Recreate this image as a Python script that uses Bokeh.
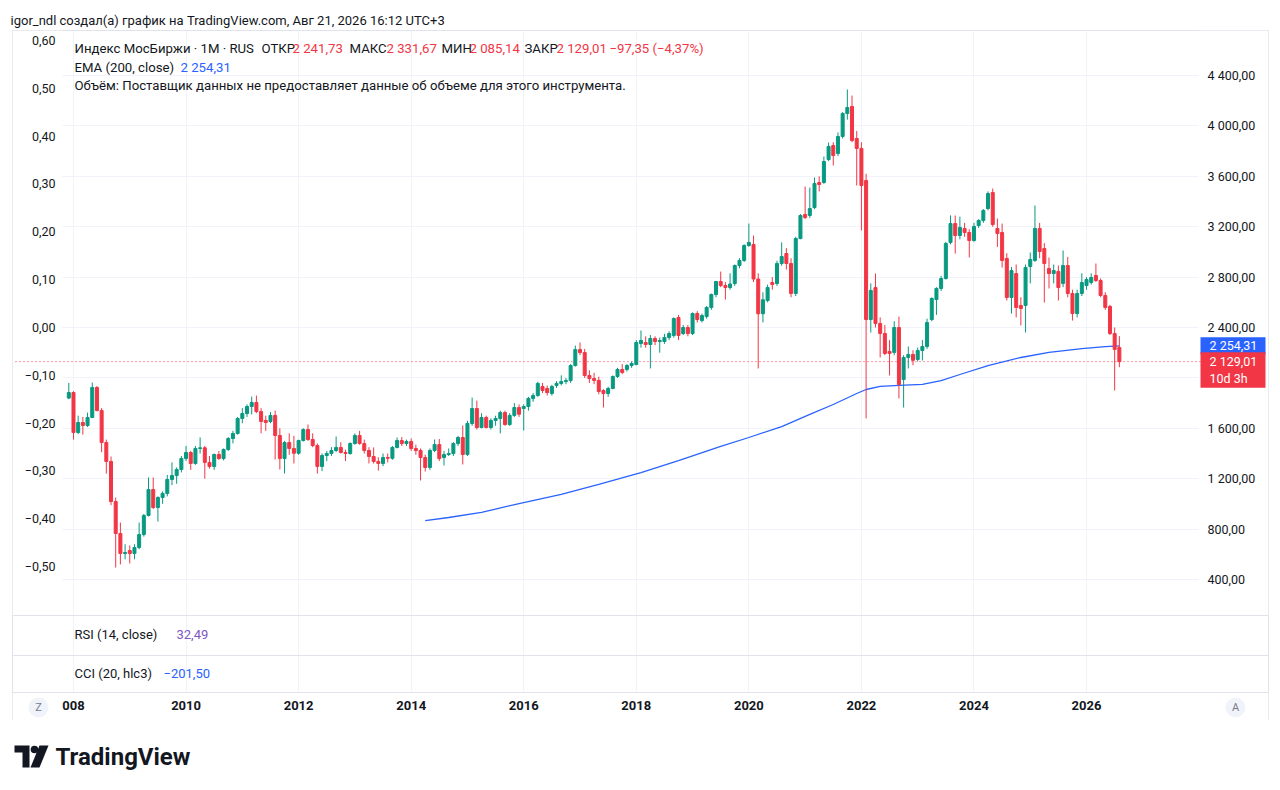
import pandas as pd
from bokeh.plotting import figure
from bokeh.models import (ColumnDataSource, LinearAxis, Range1d, FixedTicker, Label,
                          Span, Grid)
from bokeh.layouts import column
from bokeh.embed import file_html
from bokeh.resources import INLINE

# ---------------- data (monthly candles, Dec 2007 .. Aug 2026) ----------------
months = pd.date_range("2007-12-01", periods=225, freq="MS").strftime("%Y-%m").tolist()

open_ = [
    1840,
    1884, 1567, 1646, 1622, 1686, 1924, 1741, 1487, 1337, 1019, 765, 606,      # 2008
    630, 606, 654, 757, 908, 1114, 971, 1051, 1083, 1194, 1225, 1273,          # 2009
    1360, 1408, 1321, 1440, 1445, 1329, 1297, 1392, 1360, 1432, 1519, 1559,    # 2010
    1678, 1717, 1773, 1805, 1733, 1662, 1654, 1702, 1543, 1360, 1487, 1440,    # 2011
    1402, 1503, 1590, 1511, 1463, 1297, 1384, 1400, 1424, 1448, 1408, 1400,    # 2012
    1479, 1543, 1479, 1424, 1376, 1337, 1321, 1368, 1362, 1448, 1503, 1479,    # 2013
    1495, 1440, 1424, 1368, 1289, 1424, 1471, 1368, 1392, 1400, 1479, 1527,    # 2014
    1392, 1638, 1757, 1606, 1686, 1606, 1662, 1678, 1725, 1630, 1702, 1765,    # 2015
    1757, 1773, 1837, 1860, 1932, 1916, 1876, 1940, 1956, 1971, 1979, 2098,    # 2016
    2225, 2201, 2019, 1995, 1980, 1900, 1876, 1916, 2011, 2067, 2067, 2098,    # 2017
    2106, 2273, 2281, 2265, 2313, 2289, 2289, 2321, 2337, 2479, 2352, 2400,    # 2018
    2352, 2511, 2455, 2487, 2559, 2662, 2765, 2733, 2717, 2749, 2892, 2932,    # 2019
    3051, 3059, 2785, 2509, 2614, 2757, 2749, 2908, 2987, 2908, 2670, 3106,    # 2020
    3297, 3289, 3352, 3551, 3551, 3733, 3844, 3781, 3916, 4098, 4154, 3900,    # 2021
    3821, 3567, 2463, 2717, 2432, 2352, 2210, 2202, 2400, 1987, 2162, 2186,    # 2022
    2146, 2217, 2249, 2463, 2622, 2710, 2789, 3075, 3225, 3130, 3186, 3154,    # 2023
    3090, 3209, 3249, 3344, 3471, 3186, 3154, 2948, 2638, 2828, 2575, 2575,    # 2024
    2884, 2932, 3186, 3027, 2868, 2828, 2845, 2750, 2892, 2670, 2511, 2670,    # 2025
    2733, 2757, 2813, 2773, 2654, 2567, 2352, 2241.73,                         # 2026
]
high = [
    1960,
    1895, 1700, 1690, 1725, 1963, 1935, 1760, 1510, 1376, 1050, 852, 680,
    670, 680, 852, 920, 1210, 1210, 1060, 1100, 1230, 1330, 1290, 1380,
    1460, 1420, 1460, 1527, 1460, 1380, 1400, 1420, 1440, 1530, 1580, 1690,
    1760, 1790, 1852, 1860, 1760, 1700, 1730, 1741, 1600, 1500, 1560, 1540,
    1510, 1600, 1630, 1560, 1480, 1400, 1420, 1450, 1535, 1490, 1430, 1490,
    1560, 1580, 1510, 1450, 1448, 1370, 1400, 1400, 1460, 1527, 1530, 1510,
    1520, 1470, 1440, 1390, 1440, 1511, 1515, 1420, 1440, 1490, 1540, 1622,
    1660, 1844, 1820, 1720, 1700, 1680, 1700, 1740, 1740, 1720, 1800, 1790,
    1790, 1850, 1880, 1970, 1960, 1940, 1945, 1975, 2020, 2000, 2110, 2257,
    2281, 2230, 2060, 2040, 2010, 1910, 1930, 2020, 2080, 2110, 2110, 2130,
    2300, 2376, 2330, 2340, 2330, 2320, 2350, 2370, 2480, 2500, 2420, 2420,
    2520, 2530, 2510, 2570, 2670, 2770, 2844, 2760, 2830, 2900, 2950, 3060,
    3225, 3130, 2830, 2680, 2740, 2800, 2930, 3075, 3030, 2950, 3120, 3300,
    3519, 3511, 3590, 3600, 3757, 3868, 3870, 3948, 4110, 4289, 4241, 3960,
    3870, 3620, 2750, 2829, 2480, 2420, 2300, 2450, 2487, 2180, 2249, 2220,
    2240, 2300, 2470, 2640, 2720, 2810, 3080, 3290, 3289, 3280, 3230, 3180,
    3230, 3260, 3340, 3480, 3503, 3265, 3225, 2990, 2880, 2900, 2640, 2900,
    2995, 3368, 3230, 3070, 2955, 2900, 2892, 3011, 2960, 2700, 2700, 2830,
    2800, 2830, 2908, 2790, 2680, 2580, 2400, 2331.67,
]
low = [
    1830,
    1510, 1555, 1550, 1610, 1680, 1735, 1410, 1240, 990, 495, 520, 560,
    527, 560, 640, 740, 900, 960, 860, 1000, 1060, 1150, 1160, 1250,
    1340, 1270, 1310, 1400, 1200, 1280, 1270, 1350, 1345, 1420, 1480, 1550,
    1640, 1690, 1710, 1720, 1560, 1580, 1640, 1352, 1273, 1241, 1390, 1321,
    1390, 1495, 1500, 1450, 1241, 1260, 1340, 1380, 1410, 1400, 1340, 1390,
    1470, 1470, 1400, 1321, 1320, 1265, 1300, 1330, 1350, 1440, 1460, 1460,
    1420, 1390, 1186, 1257, 1270, 1410, 1340, 1305, 1380, 1380, 1460, 1313,
    1380, 1620, 1590, 1600, 1600, 1590, 1620, 1560, 1620, 1620, 1690, 1690,
    1582, 1740, 1810, 1850, 1880, 1860, 1860, 1920, 1940, 1950, 1960, 2090,
    2180, 2000, 1960, 1950, 1870, 1765, 1850, 1910, 2000, 2030, 2050, 2080,
    2100, 2240, 2240, 2075, 2260, 2200, 2270, 2300, 2320, 2300, 2340, 2330,
    2340, 2440, 2440, 2470, 2540, 2640, 2720, 2622, 2700, 2730, 2870, 2920,
    3040, 2760, 2075, 2440, 2600, 2700, 2730, 2890, 2860, 2640, 2650, 3100,
    3260, 3270, 3340, 3480, 3540, 3720, 3686, 3760, 3900, 4050, 3870, 3527,
    3170, 1678, 2360, 2400, 2162, 2180, 2019, 2180, 1837, 1765, 2075, 2100,
    2130, 2138, 2230, 2450, 2500, 2690, 2780, 3060, 2987, 3100, 3120, 2955,
    3080, 3190, 3230, 3330, 3200, 3040, 2876, 2614, 2511, 2480, 2416, 2360,
    2750, 2920, 2950, 2598, 2710, 2750, 2614, 2720, 2640, 2455, 2480, 2650,
    2700, 2740, 2760, 2640, 2540, 2340, 1900, 2085.14,
]
close = [
    1884,
    1567, 1646, 1622, 1686, 1924, 1741, 1487, 1337, 1019, 765, 606, 614,
    606, 654, 757, 908, 1114, 971, 1051, 1083, 1194, 1225, 1273, 1360,
    1408, 1321, 1440, 1445, 1329, 1297, 1392, 1360, 1432, 1519, 1559, 1678,
    1717, 1773, 1805, 1733, 1654, 1646, 1702, 1543, 1360, 1487, 1440, 1402,
    1503, 1590, 1511, 1463, 1297, 1384, 1400, 1424, 1448, 1408, 1400, 1479,
    1543, 1479, 1424, 1376, 1337, 1321, 1368, 1362, 1448, 1503, 1479, 1495,
    1440, 1424, 1368, 1289, 1424, 1471, 1360, 1392, 1400, 1479, 1527, 1392,
    1638, 1757, 1606, 1686, 1606, 1662, 1678, 1725, 1630, 1702, 1765, 1712,
    1773, 1837, 1860, 1956, 1900, 1884, 1932, 1956, 1971, 1979, 2098, 2225,
    2201, 2019, 1995, 1980, 1892, 1876, 1916, 2011, 2067, 2043, 2098, 2114,
    2281, 2297, 2265, 2313, 2289, 2297, 2321, 2352, 2471, 2337, 2400, 2352,
    2511, 2463, 2495, 2559, 2662, 2765, 2733, 2717, 2745, 2892, 2932, 3051,
    3075, 2785, 2509, 2620, 2717, 2741, 2908, 2963, 2908, 2670, 3106, 3289,
    3273, 3344, 3543, 3535, 3717, 3837, 3765, 3916, 4098, 4146, 3884, 3821,
    3527, 2463, 2694, 2432, 2352, 2194, 2194, 2400, 1948, 2162, 2186, 2140,
    2217, 2249, 2440, 2630, 2710, 2789, 3067, 3225, 3130, 3194, 3154, 3090,
    3202, 3249, 3329, 3463, 3217, 3146, 2932, 2638, 2852, 2559, 2551, 2876,
    2940, 3186, 3003, 2908, 2828, 2852, 2717, 2892, 2670, 2511, 2670, 2757,
    2781, 2797, 2773, 2654, 2559, 2352, 2226.36, 2129.01,
]

# EMA(200, close)
ema_dates = ["2014-04", "2014-09", "2015-04", "2015-12", "2016-09", "2017-05", "2018-02",
             "2018-10", "2019-07", "2020-01", "2020-08", "2021-02", "2021-07", "2021-12",
             "2022-02", "2022-05", "2022-09", "2023-02", "2023-06", "2023-10", "2024-04",
             "2024-11", "2025-05", "2025-12", "2026-05", "2026-08"]
ema_vals = [868, 892, 932, 1003, 1075, 1154, 1249, 1344, 1456, 1527, 1614, 1710, 1789, 1876,
            1908, 1932, 1940, 1948, 1979, 2027, 2098, 2162, 2202, 2233, 2249, 2254.31]

price_ticks = [400, 800, 1200, 1600, 2000, 2400, 2800, 3200, 3600, 4000, 4400]
pct_ticks = [60, 50, 40, 30, 20, 10, 0, -10, -20, -30, -40, -50]   # hundredths
year_ticks = list(range(2008, 2027, 2))
rsi_value = 32.49
cci_value = -201.50

assert all(len(a) == len(months) for a in (open_, high, low, close))

# ---------------- style / geometry ----------------
FONT = "Roboto"
DARK = "#131722"
UP = "#089981"
DOWN = "#f23645"
BLUE = "#2962ff"
PURPLE = "#7e57c2"
GRID = "#f0f3fa"
SEP = "#e0e3eb"


def fmt(v):
    s = f"{abs(v):,.2f}".replace(",", " ").replace(".", ",")
    return ("−" + s) if v < 0 else s


W = 1280
FL, FR = 12, 1268          # frame edges (x)
FT, FB = 30, 720           # frame edges (y)
PANE_L, PANE_R, PANE_B = 62, 1198, 615
PPX = 4.69                 # px per month
X0 = 68.3                  # x of first candle
x_lo, x_hi = (FL - X0) / PPX, (FR - X0) / PPX
y_lo = 400 + (579 - FB) / 0.126
y_hi = 400 + (579 - FT) / 0.126
PPY = (FB - FT) / (y_hi - y_lo)


def mx(px):
    return x_lo + (px - FL) / PPX


def my(py):
    return y_lo + (FB - py) / PPY


def pyv(v):
    return FB - (v - y_lo) * PPY


idx = list(range(len(months)))
year_idx = [months.index(f"{y}-01") for y in year_ticks]
year_labels = {i: (str(y) if y != 2008 else "008") for i, y in zip(year_idx, year_ticks)}

src = ColumnDataSource(dict(
    x=idx, o=open_, h=high, l=low, c=close,
    top=[max(a, b) for a, b in zip(open_, close)],
    bot=[min(a, b) for a, b in zip(open_, close)],
    col=[UP if c >= o else DOWN for o, c in zip(open_, close)],
))

# ---------------- main chart (all panes in one frame) ----------------
p = figure(width=W, height=FB, x_range=Range1d(x_lo, x_hi), y_range=Range1d(y_lo, y_hi),
           x_axis_location=None, y_axis_location=None, toolbar_location=None,
           output_backend="svg", min_border_left=FL, min_border_right=W - FR,
           min_border_top=FT, min_border_bottom=0)
p.outline_line_color = SEP
p.grid.visible = False
p.background_fill_color = "white"

p.title.text = "igor_ndl создал(а) график на TradingView.com, Авг 21, 2026 16:12 UTC+3"
p.title.text_font = FONT
p.title.text_font_size = "13px"
p.title.text_font_style = "normal"
p.title.text_color = DARK
p.title.align = "left"
p.title.offset = -2
p.title.standoff = 5

p.add_layout(Grid(dimension=0, ticker=FixedTicker(ticks=year_idx), grid_line_color=GRID))
p.add_layout(Grid(dimension=1, ticker=FixedTicker(ticks=price_ticks), grid_line_color=GRID))

# blank side strips and time row (no grid there)
p.quad(left=[mx(FL), mx(PANE_R), mx(FL)], right=[mx(PANE_L), mx(FR), mx(FR)],
       bottom=[my(PANE_B), my(PANE_B), my(FB)], top=[my(FT), my(FT), my(692)],
       fill_color="white", line_color=None)

# right price scale
cv = pyv(close[-1])
ra = LinearAxis(ticker=FixedTicker(ticks=[t for t in price_ticks if abs(pyv(t) - cv - 8) > 22]),
                major_label_overrides={t: fmt(t) for t in price_ticks})
p.add_layout(ra, "right")
# left scale
p.extra_y_ranges = {"pct": Range1d((0.60 - (FB - 40) * 1.1 / 526) * 100, (0.60 + (40 - FT) * 1.1 / 526) * 100)}
la = LinearAxis(y_range_name="pct", ticker=FixedTicker(ticks=pct_ticks),
                major_label_overrides={t: f"{t / 100:.2f}".replace(".", ",").replace("-", "−") for t in pct_ticks})
p.add_layout(la, "left")
# time scale
xa = LinearAxis(ticker=FixedTicker(ticks=year_idx), major_label_overrides=year_labels)
p.add_layout(xa, "below")

for ax, so in ((ra, -61), (la, -43), (xa, -20)):
    ax.axis_line_color = None
    ax.major_tick_line_color = None
    ax.minor_tick_line_color = None
    ax.major_tick_out = 0
    ax.major_tick_in = 0
    ax.major_label_standoff = so
    ax.major_label_text_font = FONT
    ax.major_label_text_font_size = "12.5px"
    ax.major_label_text_color = DARK
xa.major_label_text_font_style = "bold"
xa.major_label_text_font_size = "13px"

# last-price dotted line
p.segment(x0=[mx(15)], y0=[close[-1]], x1=[mx(1200)], y1=[close[-1]],
          line_color=DOWN, line_dash="1 3", line_width=1)

p.line([months.index(d) for d in ema_dates], ema_vals, line_color=BLUE, line_width=1.3)
p.segment("x", "l", "x", "h", source=src, line_color="col", line_width=1)
p.vbar(x="x", width=0.64, top="top", bottom="bot", source=src, fill_color="col", line_color="col",
       line_width=1)

# price boxes on the right scale
ev = pyv(ema_vals[-1])
p.quad(left=[mx(1200), mx(1200)], right=[mx(1265), mx(1265)],
       top=[my(ev - 8.5), my(cv - 9.5)], bottom=[my(ev + 8.5), my(cv + 26)],
       fill_color=[BLUE, DOWN], line_color=None)

# round buttons of the time scale
p.scatter(x=[mx(38), mx(1235)], y=[my(707), my(707)], size=20, marker="circle",
          fill_color="#f0f3fa", line_color=None)

# pane separators
for yy in (PANE_B, 655, 692):
    p.add_layout(Span(location=my(yy), dimension="width", line_color=SEP, line_width=1))


def lab(x, y, text, color=DARK, size="13px", **kw):
    p.add_layout(Label(x=x, y=y, text=text, text_font=FONT, text_font_size=size,
                       text_color=color, text_baseline="middle", **kw))


lab(mx(1209), ema_vals[-1], fmt(ema_vals[-1]), "white", "12.5px")
lab(mx(1209), close[-1], fmt(close[-1]), "white", "12.5px")
lab(mx(1209), my(cv + 17), "10d 3h", "white", "12.5px")

chg = close[-1] - close[-2]
segs = [("Индекс МосБиржи · 1M · RUS", 74, DARK), ("ОТКР", 261, DARK), (fmt(open_[-1]), 292, DOWN),
        ("МАКС", 349, DARK), (fmt(high[-1]), 386, DOWN), ("МИН", 441, DARK), (fmt(low[-1]), 469, DOWN),
        ("ЗАКР", 524, DARK), (fmt(close[-1]), 556, DOWN),
        (f"{fmt(chg)} ({fmt(chg / close[-2] * 100)}%)", 609, DOWN)]
for t, px, c in segs:
    lab(mx(px), my(48), t, c, "13.2px")
lab(mx(74), my(67), "EMA (200, close)", DARK, "13.2px")
lab(mx(180), my(67), fmt(ema_vals[-1]), BLUE, "13.2px")
lab(mx(74), my(85), "Объём: Поставщик данных не предоставляет данные об объеме для этого инструмента.",
    DARK, "13.2px")

lab(mx(74), my(634), "RSI (14, close)")
lab(mx(176), my(634), fmt(rsi_value), PURPLE)
lab(mx(74), my(673), "CCI (20, hlc3)")
lab(mx(163), my(673), fmt(cci_value), BLUE)

for t, px in (("Z", 38), ("A", 1235)):
    lab(mx(px), my(707), t, "#787b86", "11px", text_align="center")

# ---------------- logo ----------------
logo = figure(width=W, height=60, x_range=Range1d(FL, FR), y_range=Range1d(0, 60),
              x_axis_location=None, y_axis_location=None, toolbar_location=None,
              output_backend="svg", min_border_left=FL, min_border_right=W - FR,
              min_border_top=0, min_border_bottom=0)
logo.outline_line_color = None
logo.grid.visible = False


def lp(pts):
    return [x for x, _ in pts], [780 - y for _, y in pts]


xs, ys = lp([(14, 745), (29, 745), (29, 767), (22, 767), (22, 752), (14, 752)])
logo.patch(xs, ys, fill_color=DARK, line_color=None)
xs, ys = lp([(39, 745), (48, 745), (39, 767), (30, 767)])
logo.patch(xs, ys, fill_color=DARK, line_color=None)
logo.circle(x=[34], y=[780 - 749], radius=3.8, fill_color=DARK, line_color=None)
logo.add_layout(Label(x=55, y=780 - 756, text="TradingView", text_font=FONT, text_font_size="24px",
                      text_font_style="bold", text_color=DARK, text_baseline="middle"))

layout = column(p, logo, spacing=0)
open("out.html", "w").write(file_html(layout, INLINE))
